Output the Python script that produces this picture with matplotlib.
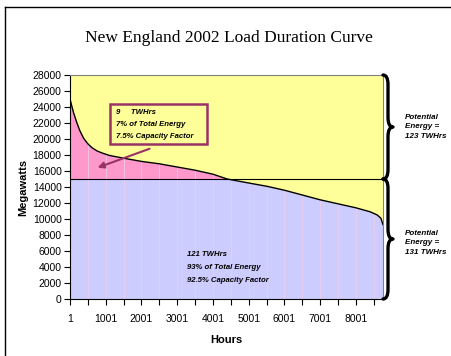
import numpy as np
import matplotlib
matplotlib.use("Agg")
import matplotlib.pyplot as plt
from matplotlib.path import Path
from matplotlib.patches import PathPatch, Rectangle
from matplotlib.lines import Line2D
import matplotlib.transforms as mtransforms

# load duration curve
hours = [1, 40, 100, 180, 270, 380, 500, 620, 760, 900, 1100, 1500, 2000,
         2500, 3000, 3500, 4000, 4400, 5000, 5500, 6000, 6500, 7000, 7500,
         8000, 8400, 8600, 8700, 8760]
load_mw = [25000, 24300, 23300, 22200, 21100, 20100, 19400, 18900, 18500,
           18250, 17950, 17600, 17200, 16900, 16500, 16100, 15600, 15000,
           14500, 14100, 13600, 13000, 12400, 11900, 11400, 10900, 10500,
           10100, 9300]
capacity_mw = 15000

x_tick_labels = [1, 1001, 2001, 3001, 4001, 5001, 6001, 7001, 8001]
y_ticks = list(range(0, 28001, 2000))

peak_text = ["9     TWHrs", "7% of Total Energy", "7.5% Capacity Factor"]
base_text = ["121 TWHrs", "93% of Total Energy", "92.5% Capacity Factor"]
upper_brace_text = "Potential\nEnergy =\n123 TWHrs"
lower_brace_text = "Potential\nEnergy =\n131 TWHrs"

YELLOW = "#FFFF99"
PINK = "#FF99CC"
BLUE = "#CCCCFF"
PURPLE = "#993366"

plt.rcParams["font.family"] = ["Liberation Sans", "DejaVu Sans"]

W, H = 451, 356
fig = plt.figure(figsize=(W / 100, H / 100), dpi=100)
ax = fig.add_axes([70 / W, 1 - 299 / H, (383 - 70) / W, (299 - 75) / H])

h = np.array(hours, dtype=float)
mw = np.array(load_mw, dtype=float)

ax.set_facecolor(YELLOW)
ax.fill_between(h, 0, np.minimum(mw, capacity_mw), color=BLUE, lw=0)
ax.fill_between(h, capacity_mw, mw, where=mw >= capacity_mw,
                interpolate=True, color=PINK, lw=0)

# faint category lines that Excel leaves in the filled areas
for hv in range(501, 8760, 500):
    top = np.interp(hv, h, mw)
    ax.vlines(hv, 0, top, color="#EFCFEA", lw=0.5, zorder=1.5)

ax.plot(h, mw, color="black", lw=1.0, zorder=3)
ax.axhline(capacity_mw, color="black", lw=0.8, zorder=3)

ax.set_xlim(1, 8760)
ax.set_ylim(0, 28000)
ax.set_yticks(y_ticks)
ax.set_xticks(x_tick_labels)
ax.set_xticks(list(range(501, 8760, 1000)), minor=True)
ax.tick_params(axis="both", direction="out", length=4, width=0.8,
               labelsize=7.5, pad=2)
ax.tick_params(axis="x", which="minor", direction="out", length=4, width=0.8)
ax.tick_params(axis="x", pad=7)
for s in ("top", "right"):
    ax.spines[s].set_color("#808080")
    ax.spines[s].set_linewidth(0.8)
for s in ("left", "bottom"):
    ax.spines[s].set_linewidth(0.8)

ax.set_ylabel("Megawatts", fontsize=8, fontweight="bold", labelpad=3)
ax.set_xlabel("Hours", fontsize=8, fontweight="bold", labelpad=8)

fig.text(229 / W, 1 - 38 / H, "New England 2002 Load Duration Curve",
         family=["Liberation Serif", "DejaVu Serif"], fontsize=12.5,
         ha="center", va="center")

# annotation box in the peak area
box = Rectangle((110 / W, 1 - 144 / H), 97 / W, 40 / H, transform=fig.transFigure,
                facecolor=YELLOW, edgecolor=PURPLE, lw=1.8, zorder=5)
fig.add_artist(box)
for i, line in enumerate(peak_text):
    fig.text(116 / W, 1 - (113 + i * 12) / H, line, fontsize=5.6,
             fontweight="bold", style="italic", va="center", zorder=6)
ax.annotate("", xy=(700, 16300), xytext=(2300, 18900),
            arrowprops=dict(arrowstyle="-|>", color=PURPLE, lw=1.5,
                            mutation_scale=9), zorder=6)

for i, line in enumerate(base_text):
    fig.text(187 / W, 1 - (255 + i * 12.5) / H, line, fontsize=5.6,
             fontweight="bold", style="italic", va="center")

# curly braces on the right
bt = mtransforms.blended_transform_factory(ax.transAxes, ax.transData)


def brace(y0, y1):
    x0, x1, x2 = 1.0, 1.016, 1.032
    r = 1200
    ym = 0.5 * (y0 + y1)
    verts = [(x0, y0), (x1, y0), (x1, y0 - r),
             (x1, ym + r), (x1, ym), (x2, ym),
             (x1, ym), (x1, ym - r),
             (x1, y1 + r), (x1, y1), (x0, y1)]
    codes = [Path.MOVETO, Path.CURVE3, Path.CURVE3,
             Path.LINETO, Path.CURVE3, Path.CURVE3,
             Path.CURVE3, Path.CURVE3,
             Path.LINETO, Path.CURVE3, Path.CURVE3]
    p = PathPatch(Path(verts, codes), transform=bt, facecolor="none",
                  edgecolor="black", lw=2.4, clip_on=False, zorder=4,
                  capstyle="round", joinstyle="round")
    ax.add_patch(p)
    return ym


ym_up = brace(28000, capacity_mw)
ym_lo = brace(capacity_mw, 0)
ax.text(1.07, ym_up, upper_brace_text, transform=bt, fontsize=5.8,
        fontweight="bold", style="italic", va="center", ha="left",
        linespacing=1.45)
ax.text(1.07, ym_lo - 500, lower_brace_text, transform=bt, fontsize=5.8,
        fontweight="bold", style="italic", va="center", ha="left",
        linespacing=1.45)

# chart frame (only left and top edges fall inside the picture)
fig.add_artist(Line2D([5 / W, 5 / W], [0, 1 - 7 / H], transform=fig.transFigure,
                      color="black", lw=1.0))
fig.add_artist(Line2D([5 / W, 1], [1 - 7 / H, 1 - 7 / H], transform=fig.transFigure,
                      color="black", lw=1.0))

fig.savefig("out.png", dpi=100)
